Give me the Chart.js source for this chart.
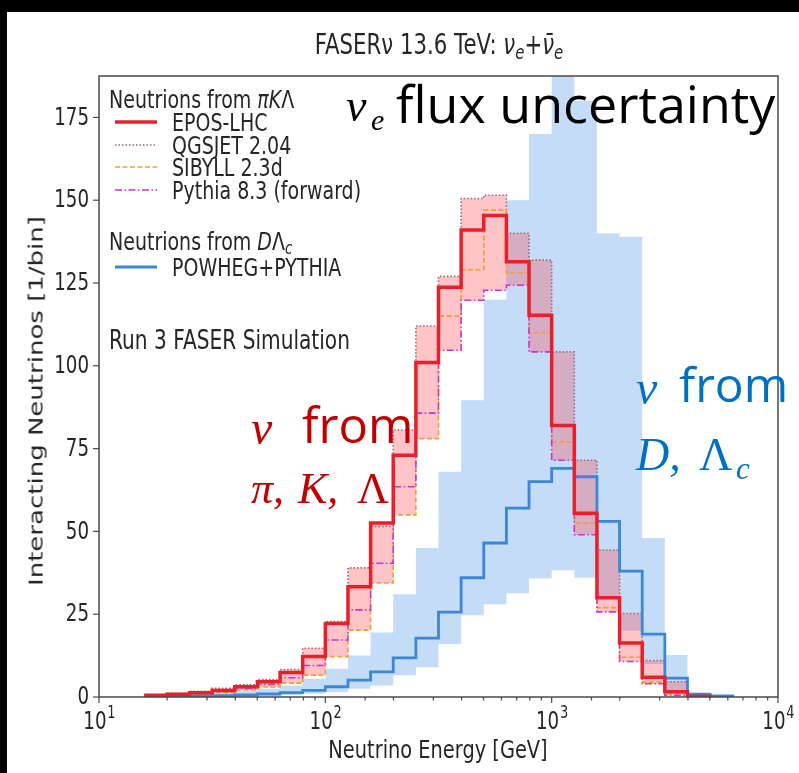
<!DOCTYPE html>
<html><head><meta charset="utf-8">
<script src="https://cdn.jsdelivr.net/npm/chart.js@4.4.1/dist/chart.umd.min.js"></script>
<style>
html,body{margin:0;padding:0;background:#000;width:799px;height:773px;overflow:hidden}
#paper{position:absolute;left:7px;top:12px;width:792px;height:761px;background:#fff}
#c{position:absolute;left:0;top:0;width:799px;height:773px}
.lab{position:absolute;white-space:nowrap;font-family:"DejaVu Sans",sans-serif;font-size:25px;color:#262626;line-height:1;transform-origin:0 50%;transform:translateY(-50%) scaleX(0.76)}
.ctr{transform-origin:50% 50%;transform:translate(-50%,-50%) scaleX(0.76)}
.rot{transform-origin:50% 50%;transform:translate(-50%,-50%) rotate(-90deg) scaleY(0.76)}
.m{font-style:italic}
.sub{font-size:0.7em;vertical-align:-0.25em}
.big{position:absolute;white-space:nowrap;line-height:1;transform:translateY(-50%)}
.ser{font-family:"Liberation Serif",serif;font-style:italic}
.sans{font-family:"Open Sans",sans-serif}
svg{position:absolute;overflow:visible}
</style></head><body>
<div id="paper"></div>
<canvas id="c" width="799" height="773"></canvas>

<div class="lab ctr" style="left:439px;top:47px;font-size:28px">FASERν 13.6 TeV: <span class="m">ν</span><span class="sub m">e</span>+<span class="m">ν̄</span><span class="sub m">e</span></div>
<div class="lab rot" style="left:36px;top:401px;font-size:26px">Interacting Neutrinos [1/bin]</div>
<div class="lab ctr" style="left:438px;top:750px;font-size:25.5px">Neutrino Energy [GeV]</div>

<div class="lab" style="left:109px;top:99px">Neutrions from <span class="m">πK</span>Λ</div>
<div class="lab" style="left:172px;top:122px">EPOS-LHC</div>
<div class="lab" style="left:172px;top:145px">QGSJET 2.04</div>
<div class="lab" style="left:172px;top:167px">SIBYLL 2.3d</div>
<div class="lab" style="left:172px;top:190px">Pythia 8.3 (forward)</div>
<div class="lab" style="left:109px;top:243px">Neutrions from <span class="m">D</span>Λ<span class="sub m">c</span></div>
<div class="lab" style="left:172px;top:267px">POWHEG+PYTHIA</div>
<div class="lab" style="left:109px;top:340px;font-size:26.5px">Run 3 FASER Simulation</div>
<svg style="left:0;top:0" width="1" height="1">
  <line x1="115" y1="122" x2="157" y2="122" stroke="#e8202a" stroke-width="3.5"/>
  <line x1="115" y1="145" x2="157" y2="145" stroke="#9a6a70" stroke-width="1.6" stroke-dasharray="1.5,2"/>
  <line x1="115" y1="167" x2="157" y2="167" stroke="#f0a030" stroke-width="1.6" stroke-dasharray="5,2.5"/>
  <line x1="115" y1="190" x2="157" y2="190" stroke="#cc33cc" stroke-width="1.6" stroke-dasharray="7,2.5,1.5,2.5"/>
  <line x1="115" y1="267" x2="157" y2="267" stroke="#3a86d8" stroke-width="3"/>
</svg>

<div class="big ser" style="left:346px;top:106px;font-size:46px;color:#000">ν</div>
<div class="big ser" style="left:371px;top:120px;font-size:30px;color:#000">e</div>
<div class="big sans" style="left:396px;top:103px;font-size:52px;color:#000">flux uncertainty</div>

<div class="big ser" style="left:251px;top:428px;font-size:48px;color:#c00000">ν</div>
<div class="big sans" style="left:302px;top:424px;font-size:49px;color:#c00000">from</div>
<div class="big ser" style="left:251px;top:489px;font-size:44px;color:#c00000">π,</div>
<div class="big ser" style="left:298px;top:489px;font-size:44px;color:#c00000">K,</div>
<div class="big" style="left:357px;top:489px;font-size:44px;color:#c00000;font-family:'Liberation Serif',serif">Λ</div>

<div class="big ser" style="left:636px;top:388px;font-size:48px;color:#0070c0">ν</div>
<div class="big sans" style="left:679px;top:384px;font-size:48px;color:#0070c0">from</div>
<div class="big ser" style="left:636px;top:455px;font-size:46px;color:#0070c0">D,</div>
<div class="big" style="left:699px;top:455px;font-size:46px;color:#0070c0;font-family:'Liberation Serif',serif">Λ</div>
<div class="big ser" style="left:736px;top:468px;font-size:31px;color:#0070c0">c</div>

<script>
// bin edges (GeV), 10 log bins per decade from 10 to 10^4
const binEdges = [10, 12.59, 15.85, 19.95, 25.12, 31.62, 39.81, 50.12, 63.10, 79.43,
  100, 125.9, 158.5, 199.5, 251.2, 316.2, 398.1, 501.2, 631.0, 794.3,
  1000, 1259, 1585, 1995, 2512, 3162, 3981, 5012, 6310, 7943, 10000];

// neutrinos from pi, K, Lambda (per bin; null = empty bin)
const eposLHC = [null,null,0.5,0.8,1.3,2.0,3.1,4.6,7.4,12.2, 22.2,33.3,52.5,73,101,123.7,141,145.4,131.4,115.3, 82,55.5,30,16.3,6,1.6,0.2,null,null,null];
const qgsjet  = [null,null,0.7,1.1,1.7,2.6,3.7,5.3,8.3,14.7, 22.8,39,51.5,80.6,112,127,150.5,151.5,140,131.9, 104.2,71.5,44.4,25.2,11,4.6,0.5,null,null,null];
const sibyll  = [null,null,0.3,0.5,0.8,1.3,2.1,3.0,4.2,6.6, 12.2,20.2,34.4,55,78,115,129,147,128,110, 77,52.5,27,12,4.5,1.0,0.1,null,null,null];
const pythia  = [null,null,0.4,0.6,1.0,1.7,2.6,3.8,5.8,9.5, 17.2,26.3,40.4,63.5,85.7,104.7,119.8,122.8,124.3,104.2, 71.5,49,25.7,10.7,4,0.5,0.1,null,null,null];
// neutrinos from D, Lambda_c
const powheg  = [null,null,0.1,0.2,0.3,0.4,0.6,0.9,1.3,2.0, 3.1,5.1,7.6,11.8,17.8,25.6,36,46.5,57,65, 69,66.5,53,38,19,5.7,0.8,0.3,null,null];
const charmUp = [0,0,0.3,0.5,0.8,1.2,1.8,2.5,3.5,5.5, 8.5,12.5,19.5,31,45,68,89.6,120,150,170, 200,180,140,139,48,12.7,1.5,0.5,0,0];
const charmLo = [0,0,0,0.1,0.1,0.2,0.3,0.4,0.6,1.0, 1.5,2.5,3.5,6.6,9,16,24.7,28,31.3,35.8, 38.3,36,30,20,10,2,0.2,0,0,0];

const yTickLabels = [0,25,50,75,100,125,150,175];
const xTickLabels = [10,100,1000,10000];

const lightMin = eposLHC.map((v,i)=>v===null?0:Math.min(v,qgsjet[i],sibyll[i],pythia[i]));
const lightMax = eposLHC.map((v,i)=>v===null?0:Math.max(v,qgsjet[i],sibyll[i],pythia[i]));

// step outline: point i holds bin i's value; an empty bin right after a filled one drops to 0
function stepPts(vals){
  return binEdges.map((e,i)=>{
    const cur = i < vals.length ? vals[i] : null;
    const prev = i > 0 ? vals[i-1] : null;
    let y = cur;
    if (cur === null && prev !== null && prev !== undefined) y = 0;
    return {x:e, y:y};
  });
}
function ds(vals, o){
  return Object.assign({data: stepPts(vals), stepped:'before', pointRadius:0, borderWidth:0, fill:false, spanGaps:false}, o);
}

const axesPlugin = {
  id:'axesPlugin',
  afterDatasetsDraw(chart){
    const {ctx, chartArea:a, scales:{x,y}} = chart;
    ctx.save();
    ctx.strokeStyle='#4a4a4a'; ctx.lineWidth=1.5;
    ctx.strokeRect(a.left, a.top, a.right-a.left, a.bottom-a.top);
    ctx.fillStyle='#262626';
    ctx.lineWidth=1.2;
    yTickLabels.forEach(v=>{
      const py = y.getPixelForValue(v);
      ctx.beginPath(); ctx.moveTo(a.left-6,py); ctx.lineTo(a.left,py); ctx.stroke();
      ctx.save(); ctx.translate(a.left-10,py); ctx.scale(0.76,1);
      ctx.font='24px "DejaVu Sans"'; ctx.textAlign='right'; ctx.textBaseline='middle';
      ctx.fillText(String(v),0,1); ctx.restore();
    });
    x.ticks.forEach(t=>{
      const px = x.getPixelForValue(t.value);
      const lg = Math.log10(t.value);
      const major = Math.abs(lg-Math.round(lg))<1e-6;
      ctx.beginPath(); ctx.moveTo(px,a.bottom); ctx.lineTo(px,a.bottom+(major?6:3.5)); ctx.stroke();
    });
    xTickLabels.forEach(v=>{
      const px = x.getPixelForValue(v);
      const ex = String(Math.round(Math.log10(v)));
      ctx.save(); ctx.translate(px,722); ctx.scale(0.76,1);
      ctx.textBaseline='middle';
      ctx.font='24px "DejaVu Sans"';
      const w1 = ctx.measureText('10').width;
      ctx.font='17px "DejaVu Sans"';
      const w2 = ctx.measureText(ex).width;
      const x0 = -(w1+w2)/2;
      ctx.font='24px "DejaVu Sans"'; ctx.textAlign='left';
      ctx.fillText('10',x0,1);
      ctx.font='17px "DejaVu Sans"';
      ctx.fillText(ex,x0+w1+1,-8);
      ctx.restore();
    });
    ctx.restore();
  }
};

new Chart(document.getElementById('c'), {
  type:'line',
  data:{datasets:[
    ds(charmLo,{order:9}),
    ds(charmUp,{order:8, fill:'-1', backgroundColor:'rgba(190,216,247,0.9)'}),
    ds(lightMin,{order:7}),
    ds(lightMax,{order:6, fill:'-1', backgroundColor:'rgba(255,60,70,0.3)'}),
    ds(qgsjet,{order:5, borderWidth:1.6, borderColor:'#9a6a70', borderDash:[1.5,2]}),
    ds(sibyll,{order:4, borderWidth:1.6, borderColor:'#f0a030', borderDash:[5,2.5]}),
    ds(pythia,{order:3, borderWidth:1.6, borderColor:'#cc33cc', borderDash:[7,2.5,1.5,2.5]}),
    ds(powheg,{order:2, borderWidth:2.8, borderColor:'#3a86d8'}),
    ds(eposLHC,{order:1, borderWidth:3.5, borderColor:'#e8202a'})
  ]},
  options:{
    responsive:false, animation:false, devicePixelRatio:1,
    layout:{padding:{left:0,right:21,top:76,bottom:0}},
    plugins:{legend:{display:false}, tooltip:{enabled:false}, title:{display:false}},
    scales:{
      x:{type:'logarithmic', min:10, max:10000, ticks:{display:false}, grid:{display:false}, border:{display:false},
         afterFit(s){ s.height = 76; }},
      y:{type:'linear', min:0, max:187.5, ticks:{display:false, stepSize:25}, grid:{display:false}, border:{display:false},
         afterFit(s){ s.width = 99; }}
    }
  },
  plugins:[axesPlugin]
});
</script>
</body></html>
